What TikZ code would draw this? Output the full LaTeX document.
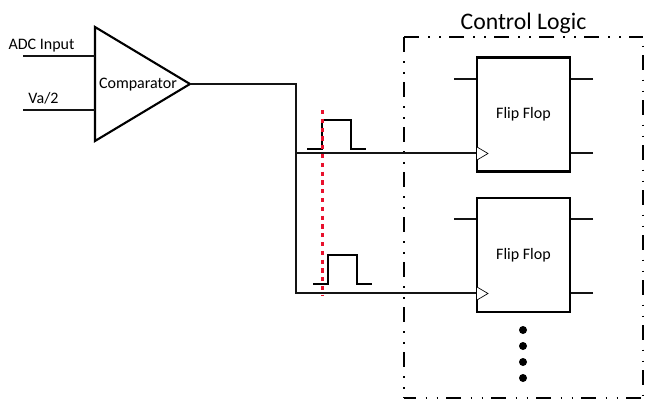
\documentclass[tikz,border=0pt]{standalone}
\usepackage{fontspec}
\setmainfont{Carlito}
\usetikzlibrary{shapes.geometric}
\definecolor{probered}{HTML}{E8112D}
\tikzset{
  x=0.75pt, y=-0.75pt,
  wire/.style={line width=1.45pt, black!92},
  body/.style={draw=black, line width=1.6pt, fill=white},
  ffbox/.style={body, rectangle, minimum width=69.75pt, minimum height=85.5pt, inner sep=0pt, font=\fontsize{12pt}{14pt}\selectfont},
  amp/.style={body, isosceles triangle, isosceles triangle stretches, minimum width=85.5pt, minimum height=71.25pt, inner sep=0pt, outer sep=0pt, anchor=apex},
  lbl/.style={inner sep=0pt, font=\fontsize{12pt}{14pt}\selectfont},
  clk/.style={draw=black, line width=0.5pt, fill=white},
  frame/.style={line width=1.35pt, draw=black, dash pattern=on 11.2pt off 7pt on 1.2pt off 7pt on 1.2pt off 6.15pt},
  pulse/.style={line width=1.45pt, draw=black},
  probe/.style={line width=2.3pt, draw=probered, dash pattern=on 3.2pt off 3.4pt},
  dotmark/.style={circle, fill=black, inner sep=0pt, minimum size=6pt}
}
\begin{document}
\begin{tikzpicture}
\useasboundingbox[fill=white] (0,0) rectangle (645,400);

% Comparator and its inputs
\node[amp] (cmp) at (190,84) {};
\node[lbl] (cmplabel) at (138,85) {Comparator};
\coordinate (inA) at (23,56);
\coordinate (inB) at (23,110);
\draw[wire] (inA) -- (inA -| cmp.left corner);
\draw[wire] (inB) -- (inB -| cmp.left corner);
\node[lbl] (adc) at (41.5,45.5) {ADC Input};
\node[lbl] (va) at (43.5,98) {Va/2};

% Control logic frame, one side at a time so each dash lands on its own phase
\coordinate (tl) at (404,37);
\coordinate (tr) at (643,37);
\coordinate (br) at (643,398);
\coordinate (bl) at (404,398);
\draw[frame] (tl) -- (tr);
\draw[frame] (tl) -- (bl);
\draw[frame, dash phase=20pt] (tr) -- (br);
\draw[frame, dash phase=2pt] (bl) -- (br);
\node[inner sep=0pt, font=\fontsize{17.8pt}{20pt}\selectfont] (title) at (523.5,23) {Control Logic};

% Flip flops
\node[ffbox] (ffa) at (523.5,114.5) {\raisebox{-1.2pt}{Flip Flop}};
\node[ffbox] (ffb) at (523.5,255) {\raisebox{-1.2pt}{Flip Flop}};

\foreach \ff/\yt/\yb in {ffa/79/153, ffb/219/293} {
  \coordinate (\ff lt) at (454,\yt);
  \coordinate (\ff rt) at (593,\yt);
  \coordinate (\ff rb) at (593,\yb);
  \draw[wire] (\ff lt) -- (\ff lt -| \ff.west);
  \draw[wire] (\ff rt) -- (\ff rt -| \ff.east);
  \draw[wire] (\ff rb) -- (\ff rb -| \ff.east);
}

% Comparator output fanned out to both clock inputs
\coordinate (bus) at (296,84);
\coordinate (tapa) at (296,153);
\coordinate (tapb) at (296,293);
\draw[wire] (cmp.apex) -- (bus) -- (tapb) -- (tapb -| ffb.west);
\draw[wire] (tapa) -- (tapa -| ffa.west);

% Clock triangles
\draw[clk] (477,147) -- (488,153.5) -- (477,160);
\draw[clk] (477,287) -- (488,293.5) -- (477,300);

% Pulses on the two clock lines
\draw[pulse] (307,149) -- (322,149) -- (322,120) -- (351,120) -- (351,149) -- (366,149);
\draw[pulse] (313,284) -- (328,284) -- (328,255) -- (357,255) -- (357,284) -- (372,284);

% Sampling instant
\coordinate (pa) at (322.4,110);
\coordinate (pb) at (322.4,296);
\draw[probe] (pa) -- (pb);

% Further flip flops
\node[dotmark] (d1) at (523,330) {};
\node[dotmark] (d2) at (523,346) {};
\node[dotmark] (d3) at (523,362) {};
\node[dotmark] (d4) at (523,378) {};
\end{tikzpicture}
\end{document}
